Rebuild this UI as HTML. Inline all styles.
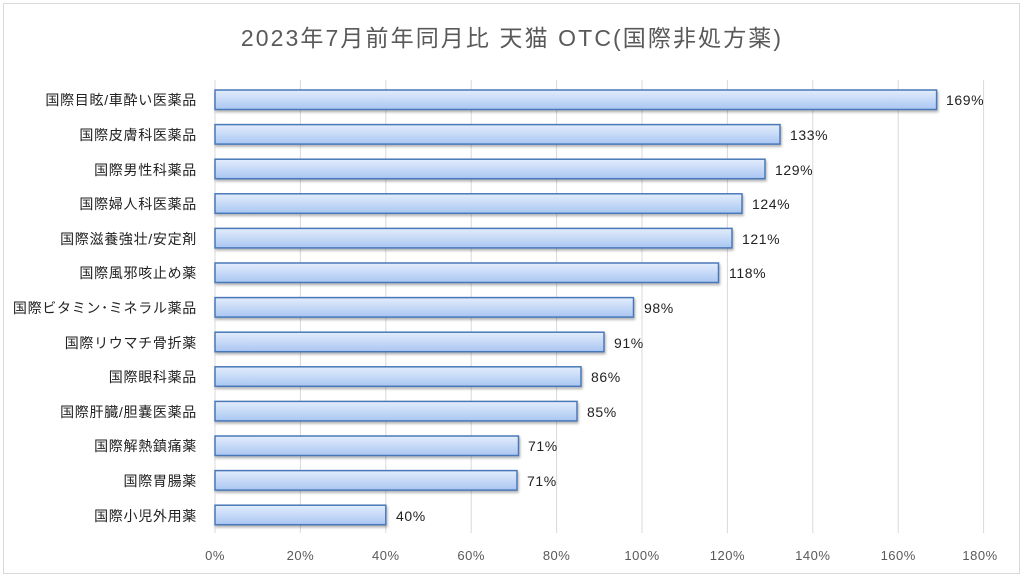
<!DOCTYPE html>
<html><head><meta charset="utf-8"><style>
body{margin:0;background:#fff}
svg text{font-family:"Liberation Sans","Noto Sans CJK JP",sans-serif}
</style></head><body>
<svg width="1024" height="578" xmlns="http://www.w3.org/2000/svg">
<defs>
<linearGradient id="g" x1="0" y1="0" x2="0" y2="1">
<stop offset="0" stop-color="#e3edfc"/><stop offset="1" stop-color="#a9c6f2"/>
</linearGradient>
<filter id="s" x="-5%" y="-30%" width="110%" height="180%"><feDropShadow dx="1" dy="2" stdDeviation="1.2" flood-color="#000" flood-opacity="0.3"/></filter>
</defs>
<rect x="3.5" y="3.5" width="1016" height="570" fill="#fff" stroke="#d9d9d9"/>
<text x="512" y="46" font-size="23" letter-spacing="2.1" fill="#595959" text-anchor="middle">2023年7月前年同月比 天猫 OTC(国際非処方薬)</text>
<g stroke="#d9d9d9" stroke-width="1">
<line x1="215" y1="80" x2="215" y2="533"/><line x1="300.4" y1="80" x2="300.4" y2="533"/><line x1="385.8" y1="80" x2="385.8" y2="533"/><line x1="471.2" y1="80" x2="471.2" y2="533"/><line x1="556.6" y1="80" x2="556.6" y2="533"/><line x1="642" y1="80" x2="642" y2="533"/><line x1="727.4" y1="80" x2="727.4" y2="533"/><line x1="812.8" y1="80" x2="812.8" y2="533"/><line x1="898.2" y1="80" x2="898.2" y2="533"/><line x1="983.6" y1="80" x2="983.6" y2="533"/>
</g>
<g font-size="13" fill="#595959" text-anchor="middle" letter-spacing="0.5">
<text x="215" y="560">0%</text><text x="300.4" y="560">20%</text><text x="385.8" y="560">40%</text><text x="471.2" y="560">60%</text><text x="556.6" y="560">80%</text><text x="642" y="560">100%</text><text x="727.4" y="560">120%</text><text x="812.8" y="560">140%</text><text x="898.2" y="560">160%</text><text x="980" y="560">180%</text>
</g>
<g id="bars" fill="url(#g)" stroke="#4a78b8" stroke-width="1.5" filter="url(#s)">
<rect x="215" y="90" width="721.6" height="19.5"/>
<rect x="215" y="124.6" width="565" height="19.5"/>
<rect x="215" y="159.2" width="550" height="19.5"/>
<rect x="215" y="193.8" width="527" height="19.5"/>
<rect x="215" y="228.4" width="517" height="19.5"/>
<rect x="215" y="263" width="503.5" height="19.5"/>
<rect x="215" y="297.6" width="418.5" height="19.5"/>
<rect x="215" y="332.2" width="389" height="19.5"/>
<rect x="215" y="366.8" width="366" height="19.5"/>
<rect x="215" y="401.4" width="362" height="19.5"/>
<rect x="215" y="436" width="303.5" height="19.5"/>
<rect x="215" y="470.6" width="302" height="19.5"/>
<rect x="215" y="505.2" width="170.8" height="19.5"/>
</g>
<g font-size="14" fill="#222" letter-spacing="0.6">
<text x="946" y="105">169%</text><text x="790" y="140">133%</text><text x="775" y="175">129%</text><text x="752" y="209">124%</text><text x="742" y="244">121%</text><text x="729" y="278">118%</text><text x="644" y="313">98%</text><text x="614" y="348">91%</text><text x="591" y="382">86%</text><text x="587" y="417">85%</text><text x="528" y="451">71%</text><text x="527" y="486">71%</text><text x="396" y="521">40%</text>
</g>
<g font-size="14" fill="#222" text-anchor="end" letter-spacing="0.7">
<text x="197" y="105">国際目眩/車酔い医薬品</text>
<text x="197" y="140">国際皮膚科医薬品</text>
<text x="197" y="175">国際男性科薬品</text>
<text x="197" y="209">国際婦人科医薬品</text>
<text x="197" y="244">国際滋養強壮/安定剤</text>
<text x="197" y="278">国際風邪咳止め薬</text>
<text x="197" y="313">国際ビタミン･ミネラル薬品</text>
<text x="197" y="348">国際リウマチ骨折薬</text>
<text x="197" y="382">国際眼科薬品</text>
<text x="197" y="417">国際肝臓/胆嚢医薬品</text>
<text x="197" y="451">国際解熱鎮痛薬</text>
<text x="197" y="486">国際胃腸薬</text>
<text x="197" y="521">国際小児外用薬</text>
</g>
</svg>
</body></html>
